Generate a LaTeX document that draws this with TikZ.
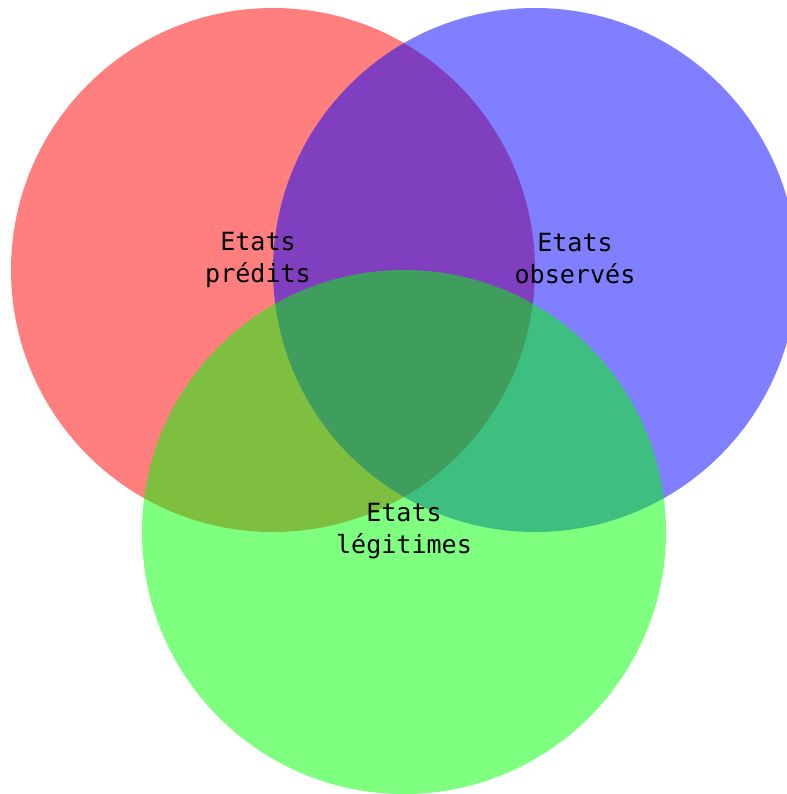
\documentclass[tikz,border=0pt]{standalone}
\usepackage{fontspec}
\setmonofont{DejaVu Sans Mono}
\usepackage{tikz}
\usetikzlibrary{positioning}
\definecolor{setred}{HTML}{FF0000}
\definecolor{setblue}{HTML}{0000FF}
\definecolor{setgreen}{HTML}{00FF00}

\begin{document}
\begin{tikzpicture}[
  x=0.75pt,y=-0.75pt,
  set/.style={circle,inner sep=0pt,minimum size=393pt,draw=none,fill opacity=0.5},
  lbl/.style={align=center,font=\ttfamily\fontsize{18.8}{24}\selectfont,text=black}]
  \useasboundingbox (0,0) rectangle (787,794);
  \clip (0,0) rectangle (787,794);
  \node[set,fill=setred] (predits) at (273,270) {};
  \node[set,fill=setblue] (observes) at (535,270) {};
  \node[set,fill=setgreen] (legitimes) at (404,532) {};
  \node[lbl] (tpredits) at (258,260) {Etats\\prédits};
  \node[lbl] (tobserves) at (575,259) {Etats\\observés};
  \node[lbl] (tlegitimes) at (404,531) {Etats\\légitimes};
\end{tikzpicture}
\end{document}
